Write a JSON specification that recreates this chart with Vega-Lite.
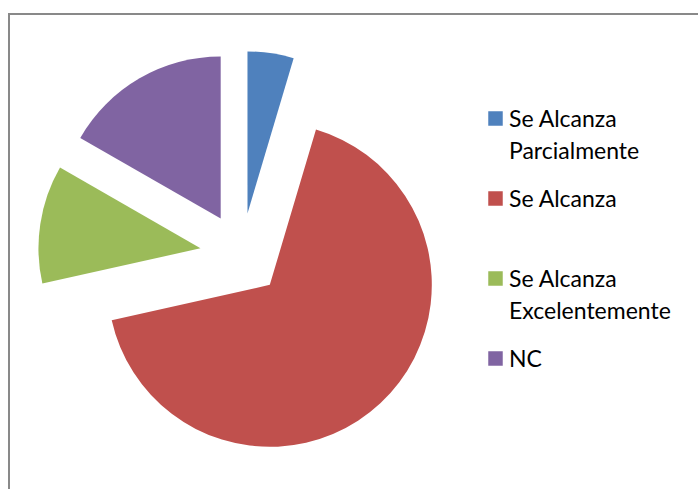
{
  "$schema": "https://vega.github.io/schema/vega-lite/v6.json",
  "width": 689,
  "height": 475,
  "autosize": {"type": "none"},
  "padding": {"left": 9, "top": 14, "right": 0, "bottom": 0},
  "background": "#ffffff",
  "config": {
    "view": {"stroke": "#898989", "strokeWidth": 2, "strokeDash": [689, 1164, 480]}
  },
  "data": {
    "values": [
      {"cat": "Se Alcanza Parcialmente", "v": 4.6, "i": 1},
      {"cat": "Se Alcanza", "v": 66.9, "i": 2},
      {"cat": "Se Alcanza Excelentemente", "v": 11.8, "i": 3},
      {"cat": "NC", "v": 16.7, "i": 4}
    ]
  },
  "transform": [
    {"window": [{"op": "sum", "field": "v", "as": "t1"}], "sort": [{"field": "i"}], "frame": [null, 0]},
    {"joinaggregate": [{"op": "sum", "field": "v", "as": "total"}]},
    {"calculate": "datum.t1 - datum.v", "as": "t0"},
    {"calculate": "sin(PI * (datum.t0 + datum.t1) / datum.total)", "as": "dx"},
    {"calculate": "cos(PI * (datum.t0 + datum.t1) / datum.total)", "as": "dy"}
  ],
  "mark": {"type": "arc", "outerRadius": 162},
  "encoding": {
    "theta": {"field": "t0", "type": "quantitative", "scale": {"domain": [0, 100], "nice": false}},
    "theta2": {"field": "t1"},
    "x": {"field": "dx", "type": "quantitative", "axis": null, "stack": null, "scale": {"domain": [-1, 1], "range": [191, 274]}},
    "y": {"field": "dy", "type": "quantitative", "axis": null, "stack": null, "scale": {"domain": [-1, 1], "range": [282, 199]}},
    "color": {
      "field": "cat",
      "type": "nominal",
      "scale": {
        "domain": ["Se Alcanza Parcialmente", "Se Alcanza", "Se Alcanza Excelentemente", "NC"],
        "range": ["#4F81BD", "#C0504D", "#9BBB59", "#8064A2"]
      },
      "legend": {
        "orient": "none",
        "legendX": 475,
        "legendY": 93,
        "title": null,
        "padding": 0,
        "symbolType": "square",
        "symbolSize": 210,
        "symbolStrokeWidth": 0,
        "symbolOpacity": 1,
        "labelFont": "Lato",
        "labelFontSize": 23,
        "labelColor": "#000000",
        "labelOffset": 2,
        "labelLimit": 0,
        "labelBaseline": "alphabetic",
        "gridAlign": "all",
        "rowPadding": 23,
        "labelExpr": "length(datum.label) > 12 ? [substring(datum.label, 0, lastindexof(datum.label, ' ')), substring(datum.label, lastindexof(datum.label, ' ') + 1)] : datum.label",
        "encode": {"labels": {"update": {"dy": {"value": 8}, "lineHeight": {"value": 32}}}}
      }
    }
  }
}
